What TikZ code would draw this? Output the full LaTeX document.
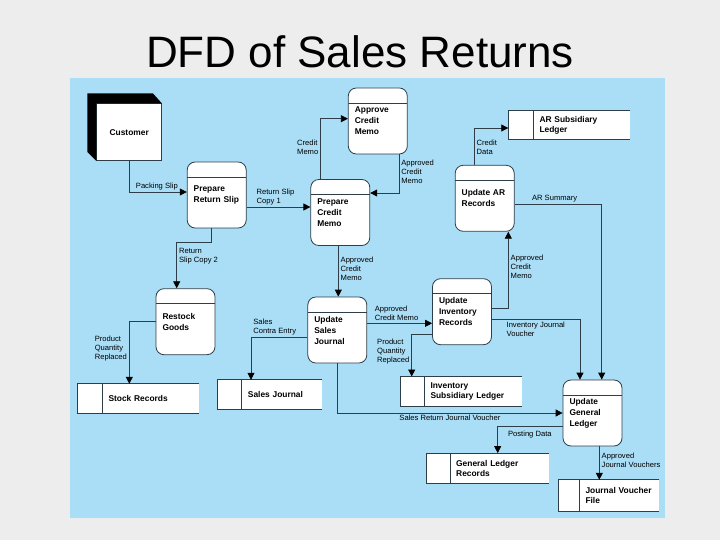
\documentclass[tikz,border=0pt]{standalone}
\usepackage{fontspec}
\setmainfont{Liberation Sans}
\usetikzlibrary{arrows.meta,positioning}
\definecolor{slidegray}{RGB}{237,237,237}
\definecolor{panelblue}{RGB}{170,221,246}
\definecolor{dfline}{RGB}{45,62,72}
\begin{document}
\begin{tikzpicture}[x=1pt,y=-1pt,
proc/.style={draw=dfline,line width=.8pt,fill=white,rounded corners=8pt,minimum width=59pt,minimum height=66pt,
  text width=46pt,align=left,inner sep=0pt,font=\bfseries\fontsize{8.4}{11}\selectfont,
  path picture={\draw[dfline,line width=.8pt,sharp corners]([yshift=-15pt]path picture bounding box.north west)--([yshift=-15pt]path picture bounding box.north east);}},
store/.style={fill=white,minimum height=29pt,inner xsep=6pt,inner ysep=0pt,anchor=west,align=left,font=\bfseries\fontsize{8.4}{10}\selectfont},
ent/.style={fill=white,draw=dfline,line width=.6pt,minimum width=65pt,minimum height=57pt,font=\bfseries\fontsize{8.4}{10}\selectfont},
flow/.style={-{Triangle[length=7pt,width=7pt,black]},draw=dfline,line width=.8pt},
lab/.style={font=\fontsize{7.6}{9}\selectfont,align=left,inner sep=2pt}]

\useasboundingbox[fill=slidegray](0,0)rectangle(720,540);
\fill[panelblue](70,78)rectangle(665,518);
\node[font=\fontsize{44}{50}\selectfont,anchor=base] (title)at(360,68){DFD of Sales Returns};

\node[ent] (cust)at(129.2,132.3){Customer};
\fill[black](cust.south west)--++(-9pt,9pt)|-([shift={(-9pt,10pt)}]cust.north east)--(cust.north east)--(cust.north west)--cycle;

\node[proc] (prs)at(216.7,195){Prepare\\Return Slip};
\node[proc] (acm)at(377.8,121){Approve\\Credit\\Memo};
\node[proc] (pcm)at(340.3,212.5){Prepare\\Credit\\Memo};
\node[proc] (uar)at(484.7,198.3){Update AR\\Records};
\node[proc] (rg)at(185.5,321.7){Restock\\Goods};
\node[proc] (usj)at(337.3,330){Update\\Sales\\Journal};
\node[proc] (uir)at(462,311.7){Update\\Inventory\\Records};
\node[proc] (ugl)at(592.5,413){Update\\General\\Ledger};

\node[store,text width=84.7pt] (arsl)at(533.3,125){AR Subsidiary\\Ledger};
\node[store,text width=84.7pt] (sr)at(102.3,398.5){Stock Records};
\node[store,text width=68.3pt] (sj)at(241.7,394.5){Sales Journal};
\node[store,text width=85.4pt] (isl)at(424.3,391.2){Inventory\\Subsidiary Ledger};
\node[store,text width=86.3pt,minimum height=30pt] (glr)at(450,468.3){General Ledger\\Records};
\node[store,text width=67.7pt,minimum height=31pt] (jvf)at(579.3,495.5){Journal Voucher\\File};
\foreach \s/\d in {arsl/25,sr/25,sj/24,isl/23.6,glr/23.3,jvf/21}{
  \fill[white]([xshift=-\d pt]\s.north west)rectangle(\s.south west);
  \draw[dfline,line width=.8pt](\s.north east)--([xshift=-\d pt]\s.north west)--([xshift=-\d pt]\s.south west)--(\s.south east)
    (\s.north west)--(\s.south west);
}

\draw[flow](cust.south)|-node[lab,above,pos=.74]{Packing Slip}([yshift=3pt]prs.west);
\draw[flow]([yshift=-12pt]prs.east)--node[lab,above right,pos=.12]{Return Slip\\Copy 1}([yshift=-12pt]prs.east-|pcm.west);
\draw[flow]([xshift=-5pt]prs.south)--++(0,14.3)-|node[lab,right,pos=.65]{Return\\Slip Copy 2}([xshift=-8.8pt]rg.north);
\draw[flow]([xshift=-19.6pt]pcm.north)|-node[lab,left,pos=.26]{Credit\\Memo}([yshift=2.3pt]acm.west);
\draw[flow]([xshift=21.2pt]acm.south)|-node[lab,right,pos=.22]{Approved\\Credit\\Memo}([yshift=19.5pt]pcm.east);
\draw[flow]([xshift=-2pt]pcm.south)--node[lab,right,pos=.46]{Approved\\Credit\\Memo}([xshift=-2pt]pcm.south|-usj.north);
\draw[flow]([yshift=-7.3pt]usj.west)-|node[lab,above right,pos=.5]{Sales\\Contra Entry}([xshift=9.3pt]sj.north west);
\draw[flow]([yshift=6.7pt]usj.east)--node[lab,above right,pos=.08]{Approved\\Credit Memo}([yshift=6.7pt]usj.east-|uir.west);
\draw[flow]([yshift=-22.6pt]uir.west)-|node[lab,left,pos=.71]{Product\\Quantity\\Replaced}([xshift=-12.6pt]isl.north west);
\draw[flow](rg.west)-|node[lab,left,pos=.72]{Product\\Quantity\\Replaced}([xshift=27pt]sr.north west);
\draw[flow](usj.south)|-node[lab,below,pos=.75]{Sales Return Journal Voucher}(ugl.west);
\draw[flow]([yshift=-7.6pt]uir.east)-|node[lab,below right,pos=.07]{Inventory Journal\\Voucher}([xshift=-12.5pt]ugl.north);
\draw[flow]([yshift=3.4pt]uir.east)-|node[lab,right,pos=.77]{Approved\\Credit\\Memo}([xshift=23.6pt]uar.south);
\draw[flow]([xshift=-10.4pt]uar.north)|-node[lab,right,pos=.24]{Credit\\Data}([xshift=-25pt,yshift=-3pt]arsl.west);
\draw[flow]([yshift=-6.4pt]uar.east)-|node[lab,above,pos=.23]{AR Summary}([xshift=9.2pt]ugl.north);
\draw[flow]([yshift=-13pt]ugl.west)-|node[lab,right,pos=.65,xshift=8pt]{Posting Data}([xshift=47.7pt]glr.north west);
\draw[flow]([xshift=6.8pt]ugl.south)--node[lab,right,pos=.43]{Approved\\Journal Vouchers}([xshift=6.8pt]ugl.south|-jvf.north);
\end{tikzpicture}
\end{document}
